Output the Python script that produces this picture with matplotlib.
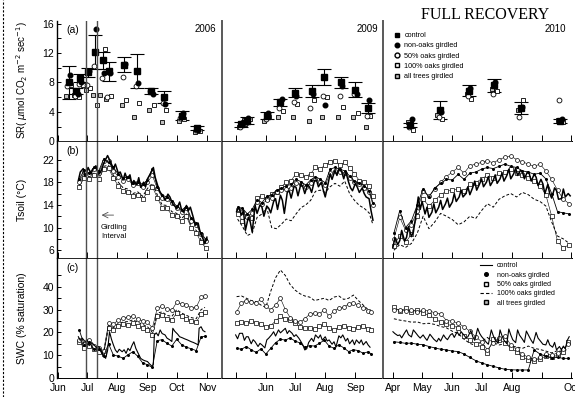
from matplotlib import pyplot as plt
from matplotlib.lines import Line2D
import numpy as np

# ---------------- panel (a): soil respiration, measurement campaigns ----------------
sr06_doy = [163, 171, 175, 183, 190, 198, 204, 220, 233, 248, 261, 279, 295]
sr06_ctrl = [8.0, 6.8, 8.6, 9.4, 12.1, 11.0, 9.5, 10.4, 9.6, 6.9, 6.0, 3.5, 1.8]
sr06_err = [2.3, 0.4, 0.5, 0.6, 2.3, 1.2, 1.3, 1.0, 2.3, 0.4, 0.8, 0.6, 0.3]
sr06_non = [9.0, 6.5, 8.0, 9.6, 15.3, 9.3, 9.3, 10.5, 7.9, 6.4, 5.1, 3.8, 1.5]
sr06_p50 = [7.5, 6.2, 7.8, 7.7, 10.2, 8.6, 6.0, 8.7, 7.5, 6.8, 5.2, 3.2, 1.6]
sr06_p100 = [7.7, 6.0, 7.6, 7.3, 4.9, 12.5, 6.2, 5.6, 5.2, 5.0, 4.3, 3.0, 1.4]
sr06_all = [6.2, 6.3, 6.2, 7.0, 6.3, 6.3, 5.8, 5.0, 3.3, 4.3, 2.6, 2.8, 1.3]

sr09_doy = [127, 133, 153, 167, 182, 199, 212, 229, 244, 257]
sr09_ctrl = [2.3, 2.8, 3.5, 5.3, 6.6, 6.8, 8.8, 8.0, 7.0, 4.5]
sr09_err = [0.4, 0.5, 0.5, 0.5, 0.6, 0.8, 1.1, 0.8, 1.0, 0.7]
sr09_non = [2.6, 3.2, 3.9, 5.7, 6.1, 6.4, 5.0, 7.5, 6.4, 5.6]
sr09_p50 = [2.0, 2.5, 3.0, 4.5, 5.4, 4.5, 6.2, 6.2, 6.4, 3.5]
sr09_p100 = [2.9, 3.0, 3.3, 4.1, 5.1, 5.6, 6.0, 4.7, 3.8, 3.4]
sr09_all = [1.9, 2.4, 2.8, 3.3, 3.3, 2.8, 3.3, 3.3, 3.3, 1.9]

sr10_doy = [109, 139, 169, 195, 222, 263]
sr10_ctrl = [2.2, 4.3, 6.9, 7.6, 4.5, 2.8]
sr10_err = [0.3, 1.2, 0.7, 0.9, 0.8, 0.3]
sr10_non = [3.1, 4.0, 7.3, 8.0, 4.7, 3.1]
sr10_p50 = [1.9, 3.3, 6.2, 6.5, 3.3, 5.6]
sr10_p100 = [1.5, 3.0, 5.7, 6.9, 5.6, 2.6]
sr10_all = [2.6, 3.6, 6.5, 7.1, 4.2, 2.9]

# ---------------- panel (b): soil temperature ----------------
t06_doy = [173, 175, 178, 180, 183, 186, 188, 191, 194, 196, 199, 201, 203, 206, 209, 211,
           214, 216, 219, 221, 223, 226, 228, 230, 233, 235, 237, 240, 242, 244, 247, 250,
           252, 255, 257, 260, 262, 265, 267, 270, 272, 274, 277, 279, 281, 284, 286, 288,
           291, 293, 296, 298, 300, 303, 305]
t06_ctrl = [18.3, 19.8, 20.4, 19.0, 20.6, 19.5, 20.3, 20.9, 19.4, 19.8, 21.3, 22.0, 22.7, 21.6,
            20.4, 21.2, 19.6, 19.8, 18.4, 19.6, 18.6, 19.3, 17.6, 18.3, 17.5, 18.8, 17.1, 18.0,
            17.2, 18.6, 19.5, 20.6, 18.8, 17.1, 16.2, 15.6, 14.8, 15.9, 15.4, 14.1, 13.8, 13.3,
            14.5, 13.1, 12.7, 13.9, 13.0, 13.6, 11.8, 10.4, 10.8, 9.2, 8.4, 7.2, 8.3]
t06_doy2 = [174, 179, 184, 189, 194, 199, 204, 209, 214, 219, 224, 229, 234, 239, 244, 249,
            254, 259, 264, 269, 274, 279, 284, 289, 294, 299, 304]
t06_non = [18.5, 20.2, 19.6, 20.6, 20.0, 22.1, 21.5, 20.6, 19.4, 18.7, 19.0, 17.9, 18.1, 17.6,
           18.4, 20.4, 17.2, 15.7, 15.4, 14.6, 13.8, 13.1, 13.7, 11.6, 10.8, 9.0, 7.9]
t06_p50 = [18.0, 19.8, 19.5, 20.3, 19.7, 21.7, 21.8, 20.0, 19.0, 18.3, 18.6, 17.5, 17.8, 17.2,
           18.0, 19.2, 16.9, 15.3, 15.0, 14.3, 13.5, 12.8, 13.4, 11.2, 10.5, 8.8, 7.6]
t06_p100 = [17.5, 19.2, 19.0, 19.6, 19.0, 20.8, 21.0, 19.2, 18.0, 17.0, 16.8, 16.0, 16.3, 15.5,
            16.9, 17.8, 15.8, 14.0, 13.9, 12.8, 12.5, 11.6, 12.4, 10.3, 9.5, 7.8, 6.8]
t06_all = [17.2, 18.8, 18.6, 19.2, 18.6, 20.3, 20.5, 18.7, 17.4, 16.5, 16.2, 15.6, 15.8, 15.0,
           16.3, 17.2, 15.3, 13.5, 13.4, 12.2, 12.0, 11.1, 12.0, 9.9, 9.1, 7.4, 6.4]

t09_doy = [122, 124, 127, 129, 131, 134, 136, 138, 141, 143, 146, 148, 150, 153, 155, 157,
           160, 162, 164, 167, 169, 171, 174, 176, 178, 181, 183, 185, 188, 190, 192, 195,
           197, 199, 202, 204, 206, 209, 211, 213, 216, 218, 220, 223, 225, 227, 230, 232,
           234, 237, 239, 241, 244, 246, 248, 251, 253, 255, 258, 260, 262]
t09_ctrl = [12.8, 13.6, 12.2, 13.0, 9.5, 11.8, 11.0, 9.2, 13.9, 12.5, 14.0, 13.6, 12.0, 13.8,
            13.4, 12.6, 14.6, 15.1, 13.2, 15.7, 14.8, 12.5, 16.2, 16.5, 15.2, 17.3, 17.1, 15.6,
            17.7, 17.2, 16.0, 17.6, 17.1, 16.2, 18.3, 18.4, 17.2, 18.0, 16.6, 15.4, 17.8, 19.5,
            18.5, 20.1, 19.2, 20.4, 19.8, 18.6, 19.9, 18.0, 17.0, 16.5, 17.8, 17.1, 16.2, 17.0,
            16.0, 15.4, 15.1, 13.0, 11.3]
t09_doy2 = [123, 128, 133, 138, 143, 148, 153, 158, 163, 168, 173, 178, 183, 188, 193, 198,
            203, 208, 213, 218, 223, 228, 233, 238, 243, 248, 253, 258, 262]
t09_non = [13.6, 13.4, 12.4, 13.2, 14.9, 14.4, 15.5, 15.8, 16.6, 16.9, 17.4, 17.6, 18.5, 18.1,
           17.5, 18.4, 19.0, 18.5, 17.9, 20.3, 20.6, 20.3, 20.0, 19.1, 18.2, 17.8, 17.4, 16.5, 14.4]
t09_p50 = [13.2, 12.8, 11.8, 12.5, 14.5, 14.2, 14.8, 15.2, 16.3, 16.6, 16.8, 17.0, 17.8, 17.6,
           17.2, 17.8, 18.6, 18.0, 17.5, 19.6, 20.0, 19.8, 19.6, 18.8, 18.0, 17.6, 17.0, 16.2, 14.0]
t09_p100 = [11.5, 10.2, 8.6, 9.0, 11.8, 12.4, 13.5, 10.0, 9.8, 10.6, 11.5, 11.2, 12.4, 13.5,
            14.0, 14.8, 16.4, 16.6, 16.2, 17.2, 17.8, 17.3, 18.2, 16.0, 14.8, 13.9, 13.4, 12.6, 10.5]
t09_all = [12.4, 11.2, 12.0, 11.6, 15.2, 15.6, 15.0, 16.0, 16.3, 17.2, 18.0, 18.3, 19.5, 19.2,
           19.0, 19.5, 20.6, 20.4, 21.0, 21.6, 21.8, 21.0, 21.5, 20.5, 19.5, 18.3, 18.0, 17.4, 15.5]

t10_doy = [91, 93, 96, 98, 100, 103, 105, 107, 110, 112, 114, 117, 119, 121, 124, 126, 128,
           131, 133, 135, 138, 140, 142, 145, 147, 149, 152, 154, 156, 159, 161, 163, 166,
           168, 170, 173, 175, 177, 180, 182, 184, 187, 189, 191, 194, 196, 198, 201, 203,
           205, 208, 210, 212, 215, 217, 219, 222, 224, 226, 229, 231, 233, 236, 238, 240,
           243, 245, 247, 250, 252, 254, 257, 259, 261, 264, 266, 268, 271, 273]
t10_ctrl = [6.5, 8.2, 7.0, 7.7, 9.5, 7.6, 8.3, 10.2, 8.4, 9.2, 11.5, 15.4, 13.2, 14.6, 12.4,
            13.6, 11.8, 12.7, 14.2, 12.6, 13.6, 14.8, 13.2, 14.2, 15.2, 13.6, 14.5, 16.0, 14.6,
            15.4, 16.6, 15.4, 16.0, 17.2, 15.8, 17.1, 18.2, 16.6, 17.7, 18.6, 17.2, 18.0, 19.0,
            17.4, 18.3, 19.3, 17.8, 18.6, 19.6, 18.2, 19.2, 20.3, 18.6, 19.5, 20.5, 19.2, 20.1,
            19.8, 18.6, 19.8, 19.5, 18.2, 19.4, 18.9, 17.4, 18.5, 17.7, 16.0, 17.6, 16.0, 15.2,
            17.0, 16.5, 15.0, 15.1, 16.8, 15.4, 16.0, 15.6]
t10_doy2 = [92, 98, 104, 110, 116, 122, 128, 134, 140, 146, 152, 158, 164, 170, 176, 182,
            188, 194, 200, 206, 212, 218, 224, 230, 236, 242, 248, 254, 260, 266, 272]
t10_non = [9.0, 13.0, 10.0, 11.2, 14.0, 16.8, 15.4, 17.0, 17.8, 18.5, 18.4, 19.4, 18.5, 19.6,
           19.8, 20.3, 20.6, 20.4, 20.8, 21.2, 20.8, 20.6, 20.0, 19.8, 19.4, 19.6, 18.6, 16.0,
           12.8, 12.6, 12.4]
t10_p50 = [8.0, 11.8, 9.5, 10.5, 13.0, 16.4, 15.5, 16.8, 18.0, 19.0, 19.8, 20.6, 19.6, 20.9,
           21.2, 21.5, 21.8, 21.4, 22.0, 22.4, 22.6, 22.0, 21.6, 21.2, 20.8, 21.2, 20.0, 18.5,
           16.6, 15.0, 14.2]
t10_p100 = [6.0, 7.0, 6.5, 7.2, 9.0, 12.0, 9.8, 11.0, 12.5, 12.0, 11.4, 10.5, 11.0, 12.0, 11.6,
            13.0, 14.2, 13.6, 15.0, 15.6, 16.0, 15.4, 16.2, 15.8, 15.0, 14.6, 13.8, 11.0, 8.5,
            8.0, 7.2]
t10_all = [6.8, 8.6, 7.4, 8.8, 12.0, 15.0, 13.8, 14.8, 15.8, 16.4, 16.6, 16.8, 16.4, 17.6, 17.9,
           18.6, 19.2, 18.8, 19.6, 19.8, 20.4, 19.6, 19.3, 18.8, 18.2, 17.4, 15.8, 12.0, 7.6,
           6.4, 7.0]

# ---------------- panel (c): soil water content ----------------
w06_doy = [173, 175, 177, 180, 182, 184, 187, 189, 192, 194, 196, 198, 201, 203, 205, 207,
           209, 211, 213, 215, 218, 220, 222, 224, 226, 228, 230, 232, 234, 237, 239, 241,
           244, 246, 249, 250, 251, 253, 255, 257, 259, 262, 264, 267, 269, 270, 272, 275,
           277, 280, 282, 285, 287, 289, 291, 294, 296, 297, 299, 301, 303]
w06_ctrl = [18.1, 16.5, 17.5, 15.9, 16.8, 14.2, 15.5, 14.5, 13.2, 13.8, 12.3, 10.6, 8.6, 12.0,
            20.3, 17.0, 14.5, 12.3, 11.2, 12.6, 11.5, 12.4, 10.8, 13.0, 12.0, 14.2, 15.9, 13.0,
            11.2, 8.6, 8.0, 7.6, 7.2, 6.2, 5.0, 6.0, 18.9, 19.8, 18.5, 21.1, 19.5, 18.9, 17.5,
            16.7, 16.0, 21.8, 20.5, 19.2, 18.1, 17.6, 17.2, 16.7, 16.3, 15.9, 15.6, 15.0, 14.5,
            21.8, 22.5, 20.8, 20.3]
w06_doy2 = [174, 179, 184, 189, 194, 199, 204, 209, 214, 219, 224, 229, 234, 239, 244, 249,
            254, 259, 264, 269, 274, 279, 284, 289, 294, 299, 303]
w06_non = [21.0, 14.5, 15.6, 12.5, 12.8, 9.5, 15.0, 10.0, 9.6, 8.6, 10.2, 11.5, 9.5, 6.6, 5.8,
           4.6, 16.4, 16.8, 15.2, 14.0, 17.0, 14.6, 13.5, 12.8, 12.0, 18.0, 18.3]
w06_p50 = [16.5, 15.0, 16.8, 14.0, 13.2, 12.0, 24.0, 23.5, 25.5, 26.2, 26.8, 27.0, 26.0, 25.0,
           24.4, 22.0, 30.6, 31.5, 30.2, 29.8, 33.2, 32.5, 32.0, 30.8, 31.0, 35.5, 36.0]
w06_p100 = [17.0, 14.0, 15.0, 13.0, 12.0, 11.0, 23.0, 22.0, 24.0, 24.5, 24.8, 25.5, 24.5, 23.5,
            22.5, 20.0, 28.5, 29.0, 27.5, 27.0, 30.0, 28.5, 27.5, 26.5, 26.0, 30.0, 31.0]
w06_all = [16.0, 13.0, 14.2, 12.8, 11.5, 10.5, 22.0, 21.0, 22.8, 23.5, 23.2, 24.0, 23.0, 22.0,
           21.0, 19.0, 27.0, 27.5, 26.0, 25.5, 28.5, 27.0, 26.0, 25.0, 24.5, 28.0, 29.0]

w09_doy = [121, 123, 125, 128, 130, 132, 134, 137, 139, 141, 144, 146, 148, 151, 153, 155,
           158, 160, 162, 165, 167, 169, 172, 174, 176, 179, 181, 183, 186, 188, 190, 192,
           194, 196, 199, 201, 203, 206, 208, 210, 213, 215, 217, 220, 222, 224, 227, 229,
           231, 234, 236, 238, 241, 243, 245, 248, 250, 252, 255, 257, 259]
w09_ctrl = [18.9, 17.2, 19.6, 19.6, 16.5, 18.1, 18.1, 15.0, 16.8, 15.9, 13.8, 15.2, 14.5, 13.2,
            16.7, 17.5, 19.0, 20.3, 18.4, 21.1, 19.8, 20.6, 21.8, 19.5, 20.8, 19.6, 18.2, 19.0,
            17.4, 16.0, 14.5, 12.3, 12.8, 15.6, 17.4, 16.0, 18.9, 17.5, 18.9, 16.6, 18.1, 16.2,
            16.7, 14.8, 15.9, 13.6, 18.5, 17.6, 18.9, 16.2, 17.4, 15.0, 16.7, 14.6, 16.7, 15.2,
            16.7, 14.5, 16.0, 14.5, 13.5]
w09_doy2 = [122, 127, 132, 137, 142, 147, 152, 157, 162, 167, 172, 177, 182, 187, 192, 197,
            202, 207, 212, 217, 222, 227, 232, 237, 242, 247, 252, 257, 260]
w09_non = [13.0, 12.6, 13.8, 12.4, 11.2, 12.8, 10.5, 13.0, 15.5, 17.0, 16.6, 17.6, 16.2, 15.4,
           13.5, 14.2, 14.0, 15.2, 16.6, 14.0, 13.0, 14.6, 13.2, 11.6, 12.4, 12.0, 10.8, 11.5, 10.6]
w09_p50 = [29.0, 33.0, 34.0, 33.5, 33.0, 34.5, 31.5, 30.0, 32.0, 35.0, 30.0, 26.5, 25.0, 24.5,
           26.0, 28.0, 28.5, 28.0, 30.0, 27.0, 29.5, 30.5, 31.0, 32.5, 33.0, 32.0, 30.5, 29.5, 29.0]
w09_p100 = [35.7, 36.0, 35.0, 34.0, 33.5, 32.0, 31.0, 38.0, 44.0, 47.4, 45.0, 41.0, 38.6, 37.0,
            36.0, 35.5, 34.0, 34.5, 35.0, 34.0, 35.5, 36.0, 34.5, 35.0, 36.4, 34.0, 32.0, 30.0, 29.8]
w09_all = [24.0, 24.5, 24.0, 25.0, 24.2, 23.6, 22.5, 23.0, 25.0, 27.0, 26.0, 25.5, 24.0, 22.5,
           21.8, 22.0, 21.5, 22.8, 23.5, 22.0, 21.0, 22.4, 23.0, 22.0, 21.5, 22.5, 23.0, 21.5, 21.0]

w10_doy = [91, 93, 96, 98, 100, 103, 105, 107, 110, 112, 115, 117, 119, 122, 124, 126, 129,
           131, 133, 136, 138, 140, 143, 145, 147, 150, 152, 154, 157, 159, 161, 164, 166,
           168, 171, 173, 175, 178, 180, 182, 185, 187, 189, 192, 194, 196, 199, 201, 203,
           205, 208, 210, 212, 214, 217, 219, 221, 224, 226, 228, 231, 233, 235, 238, 240,
           243, 245, 248, 250, 252, 255, 257, 259, 262, 264, 266, 268, 270, 272]
w10_ctrl = [20.3, 19.5, 18.6, 18.9, 17.6, 19.8, 21.1, 19.0, 18.0, 21.1, 19.5, 18.4, 17.5, 18.9,
            17.6, 16.5, 19.2, 18.1, 17.0, 15.9, 17.4, 16.2, 18.9, 17.6, 16.8, 18.9, 19.5, 17.8,
            20.3, 18.6, 20.3, 18.8, 17.6, 18.1, 20.8, 18.1, 16.5, 21.8, 19.6, 18.2, 16.7, 15.6,
            14.8, 21.1, 18.6, 16.7, 15.2, 21.1, 18.5, 16.6, 15.0, 21.5, 18.9, 16.8, 15.5, 21.1,
            18.8, 17.0, 15.6, 20.6, 18.1, 16.5, 15.2, 20.0, 17.5, 15.9, 14.8, 14.5, 16.8, 14.5,
            13.5, 15.6, 12.3, 13.8, 12.3, 14.0, 12.8, 16.5, 18.1]
w10_doy2 = [92, 98, 104, 110, 116, 122, 128, 134, 140, 146, 152, 158, 164, 170, 176, 182,
            188, 194, 200, 206, 212, 218, 224, 230, 236, 242, 248, 254, 260, 266, 271]
w10_non = [15.9, 15.6, 15.2, 15.3, 14.8, 14.6, 13.8, 13.2, 12.6, 12.3, 11.8, 11.6, 10.5, 9.0,
           7.6, 6.6, 5.8, 5.1, 4.4, 3.8, 3.6, 3.5, 3.5, 3.5, 12.3, 10.5, 9.6, 8.8, 9.0, 8.6, 8.6]
w10_p50 = [29.8, 30.0, 29.4, 30.0, 29.0, 29.8, 29.5, 28.6, 28.2, 25.2, 25.0, 24.0, 22.5, 20.5,
           18.0, 16.0, 12.3, 15.5, 17.5, 18.5, 14.5, 12.5, 10.5, 9.0, 8.3, 9.0, 10.5, 10.0, 11.0,
           12.5, 15.0]
w10_p100 = [26.0, 25.4, 25.0, 24.5, 24.6, 23.8, 24.0, 23.5, 22.6, 22.0, 20.5, 19.5, 17.0, 15.2,
            14.2, 16.0, 17.8, 15.5, 14.5, 15.0, 14.0, 13.6, 13.0, 14.0, 13.0, 12.5, 11.8, 11.0,
            12.0, 11.5, 13.0]
w10_all = [31.0, 29.5, 30.5, 29.0, 30.0, 28.5, 27.5, 26.0, 24.5, 23.5, 23.0, 22.0, 18.5, 16.5,
           15.0, 13.5, 11.0, 17.0, 16.5, 15.5, 13.0, 11.5, 9.0, 8.0, 7.5, 8.5, 9.5, 9.0, 10.0,
           11.5, 16.0]

years = ['2006', '2009', '2010']
treatments = ['control', 'non-oaks girdled', '50% oaks girdled', '100% oaks girdled',
              'all trees girdled']
xlims = [(151, 320), (106.5, 272.5), (81, 275)]
month_doy = [[152, 182, 213, 244, 274, 305],
             [121, 152, 182, 213, 244],
             [91, 121, 152, 182, 213, 244, 274]]
month_lab = [['Jun', 'Jul', 'Aug', 'Sep', 'Oct', 'Nov'],
             ['', 'Jun', 'Jul', 'Aug', 'Sep'],
             ['Apr', 'May', 'Jun', 'Jul', 'Aug', '', 'Oct']]
girdling = [180.5, 192.5]

sr = [(sr06_doy, sr06_ctrl, sr06_err, sr06_non, sr06_p50, sr06_p100, sr06_all),
      (sr09_doy, sr09_ctrl, sr09_err, sr09_non, sr09_p50, sr09_p100, sr09_all),
      (sr10_doy, sr10_ctrl, sr10_err, sr10_non, sr10_p50, sr10_p100, sr10_all)]
ts = [(t06_doy, t06_ctrl, t06_doy2, t06_non, t06_p50, t06_p100, t06_all),
      (t09_doy, t09_ctrl, t09_doy2, t09_non, t09_p50, t09_p100, t09_all),
      (t10_doy, t10_ctrl, t10_doy2, t10_non, t10_p50, t10_p100, t10_all)]
sw = [(w06_doy, w06_ctrl, w06_doy2, w06_non, w06_p50, w06_p100, w06_all),
      (w09_doy, w09_ctrl, w09_doy2, w09_non, w09_p50, w09_p100, w09_all),
      (w10_doy, w10_ctrl, w10_doy2, w10_non, w10_p50, w10_p100, w10_all)]


def draw_daily(ax, d, lw_ctrl):
    doy, ctrl, doy2, non, p50, p100, allg = d
    ax.plot(doy2, p100, 'k--', lw=0.7, dashes=(3, 2))
    ax.plot(doy2, allg, color='k', lw=0.4, marker='s', ms=2.6, mfc='white', mew=0.5)
    ax.plot(doy2, p50, color='k', lw=0.4, marker='o', ms=2.8, mfc='white', mew=0.5)
    ax.plot(doy2, non, color='k', lw=0.6, marker='o', ms=2.2, mfc='k', mew=0)
    ax.plot(doy, ctrl, 'k-', lw=lw_ctrl)


def main():
    plt.rcParams['font.family'] = ['Liberation Sans', 'DejaVu Sans']
    fig = plt.figure(figsize=(5.75, 3.97), dpi=100)
    gs = fig.add_gridspec(3, 3, left=0.099, right=0.995, top=0.948, bottom=0.048,
                          hspace=0, wspace=0, width_ratios=[169, 166, 194],
                          height_ratios=[121, 117, 120])
    axs = np.empty((3, 3), dtype=object)
    for r in range(3):
        for c in range(3):
            axs[r, c] = fig.add_subplot(gs[r, c])

    ylims = [(0, 16.4), (4.6, 25.2), (0, 52.6)]
    ymajor = [[0, 4, 8, 12, 16], [6, 10, 14, 18, 22], [0, 10, 20, 30, 40]]
    yminor = [np.arange(2, 16, 4), np.arange(8, 24, 4), np.arange(5, 50, 10)]
    offs = [0, 1.2, -1.2, 2.4, -2.4]

    for c in range(3):
        # (a) respiration campaigns
        ax = axs[0, c]
        doy, ctrl, err, non, p50, p100, allg = sr[c]
        doy = np.array(doy, dtype=float)
        ax.errorbar(doy, ctrl, yerr=err, fmt='none', ecolor='k', elinewidth=0.8,
                    capsize=5, capthick=0.8)
        ax.plot(doy + offs[4], allg, 's', ms=3.5, mfc='0.75', mec='k', mew=0.6)
        ax.plot(doy + offs[3], p100, 's', ms=3.5, mfc='white', mec='k', mew=0.6)
        ax.plot(doy + offs[2], p50, 'o', ms=3.5, mfc='white', mec='k', mew=0.6)
        ax.plot(doy + offs[1], non, 'o', ms=3.3, mfc='k', mec='k')
        ax.plot(doy, ctrl, 's', ms=3.8, mfc='k', mec='k')

        draw_daily(axs[1, c], ts[c], 1.1)
        draw_daily(axs[2, c], sw[c], 0.8)

    for r in range(3):
        for c in range(3):
            ax = axs[r, c]
            ax.set_xlim(*xlims[c])
            ax.set_ylim(*ylims[r])
            ax.set_xticks(month_doy[c])
            if r == 2:
                ax.set_xticklabels(month_lab[c])
            else:
                ax.set_xticklabels([])
            ax.tick_params(axis='x', direction='in', length=4, width=0.7, labelsize=7.5, pad=4)
            ax.spines['right'].set_visible(False)
            if r == 0:
                ax.spines['top'].set_visible(False)
            ax.spines['top'].set_linewidth(0.6)
            ax.spines['bottom'].set_linewidth(0.7)
            ax.spines['left'].set_linewidth(1.0 if c == 0 else 1.4)
            ax.spines['left'].set_color('k' if c == 0 else '0.35')
            if c == 0:
                ax.set_yticks(ymajor[r])
                ax.set_yticks(yminor[r], minor=True)
                ax.tick_params(axis='y', which='both', direction='in', length=3, width=0.7,
                               labelsize=7.5, pad=2)
            else:
                ax.set_yticks([])

    # girdling interval lines in the 2006 column
    for r in range(3):
        for g in girdling:
            axs[r, 0].axvline(g, color='0.3', lw=1.0)

    axs[1, 0].annotate('', xy=(194, 12.2), xytext=(212, 12.2),
                       arrowprops=dict(arrowstyle='->', lw=0.6, color='0.3'))
    axs[1, 0].text(196, 10.6, 'Girdling\nInterval', fontsize=5.5, va='top', ha='left',
                   linespacing=1.3)

    for c in range(3):
        axs[0, c].text(0.97, 0.93, years[c], transform=axs[0, c].transAxes,
                       ha='right', va='center', fontsize=7)
    for r, lab in enumerate(['(a)', '(b)', '(c)']):
        axs[r, 0].text(0.06, 0.92, lab, transform=axs[r, 0].transAxes,
                       ha='left', va='center', fontsize=7.5)

    # legends
    hs = [Line2D([], [], ls='none', marker='s', ms=3.5, mfc='k', mec='k'),
          Line2D([], [], ls='none', marker='o', ms=3.3, mfc='k', mec='k'),
          Line2D([], [], ls='none', marker='o', ms=3.5, mfc='white', mec='k'),
          Line2D([], [], ls='none', marker='s', ms=3.5, mfc='white', mec='k'),
          Line2D([], [], ls='none', marker='s', ms=3.5, mfc='0.75', mec='k')]
    axs[0, 2].legend(hs, treatments, loc='upper left', bbox_to_anchor=(0.04, 0.93),
                     frameon=False, fontsize=5.2, handlelength=1.0, handletextpad=0.5,
                     labelspacing=0.45, borderaxespad=0)
    hc = [Line2D([], [], color='k', lw=0.8),
          Line2D([], [], ls='none', marker='o', ms=2.6, mfc='k', mec='k'),
          Line2D([], [], ls='none', marker='s', ms=3.0, mfc='white', mec='k'),
          Line2D([], [], color='k', lw=0.8, ls='--', dashes=(3, 2)),
          Line2D([], [], ls='none', marker='s', ms=3.0, mfc='0.75', mec='k')]
    axs[2, 2].legend(hc, treatments, loc='upper left', bbox_to_anchor=(0.5, 0.99),
                     frameon=False, fontsize=5.0, handlelength=1.6, handletextpad=0.8,
                     labelspacing=0.35, borderaxespad=0)

    fig.text(0.038, 0.798, r'SR( $\mu$mol CO$_2$ m$^{-2}$ sec$^{-1}$)', rotation=90,
             ha='center', va='center', fontsize=7)
    fig.text(0.038, 0.496, 'Tsoil (\u00b0C)', rotation=90, ha='center', va='center',
             fontsize=7.5)
    fig.text(0.038, 0.199, 'SWC (% saturation)', rotation=90, ha='center', va='center',
             fontsize=7.5)
    fig.text(0.733, 0.963, 'FULL RECOVERY', family=['Liberation Serif', 'DejaVu Serif'],
             fontsize=11.5, ha='left', va='center')

    # scanned page border on the far left
    fig.add_artist(Line2D([0.006, 0.006], [0.0, 1.0], color='k', lw=0.8, ls=(0, (2, 1.5))))

    fig.savefig('out.png', dpi=100)


if __name__ == "__main__":
    main()
